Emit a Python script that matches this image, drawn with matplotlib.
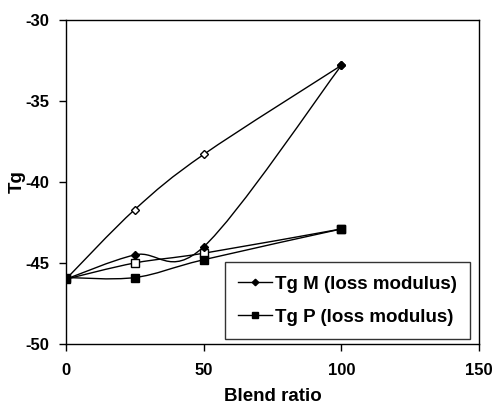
import numpy as np
import matplotlib
matplotlib.use('Agg')
import matplotlib.pyplot as plt
from matplotlib.path import Path
from matplotlib.patches import PathPatch

plt.rcParams['font.family'] = ['Liberation Sans', 'DejaVu Sans']
plt.rcParams['font.weight'] = 'bold'
plt.rcParams['axes.unicode_minus'] = False

# Данные
blend = [0, 25, 50, 100]
tg_m = [-46.0, -44.5, -44.0, -32.8]
tg_m_open = [-46.0, -41.7, -38.3, -32.8]
tg_p = [-45.9, -45.9, -44.8, -42.9]
tg_p_open = [-46.0, -45.0, -44.4, -42.9]


def smooth_path(x, y):
    # сглаженная линия как в Excel (кубические кривые Безье)
    x = np.asarray(x, float)
    y = np.asarray(y, float)
    n = len(x)
    verts = [(x[0], y[0])]
    codes = [Path.MOVETO]
    for i in range(n - 1):
        i0 = max(i - 1, 0)
        i3 = min(i + 2, n - 1)
        c1 = (x[i] + (x[i + 1] - x[i0]) / 6, y[i] + (y[i + 1] - y[i0]) / 6)
        c2 = (x[i + 1] - (x[i3] - x[i]) / 6, y[i + 1] - (y[i3] - y[i]) / 6)
        verts += [c1, c2, (x[i + 1], y[i + 1])]
        codes += [Path.CURVE4] * 3
    return Path(verts, codes)


fig = plt.figure(figsize=(4.96, 4.08), dpi=100)
ax = fig.add_axes([0.133, 0.157, 0.833, 0.794])

for yy in [tg_m, tg_m_open, tg_p, tg_p_open]:
    ax.add_patch(PathPatch(smooth_path(blend, yy), facecolor='none',
                           edgecolor='black', lw=1.0, zorder=2))

ax.plot(blend, tg_m_open, ls='none', marker='D', ms=3.6, mfc='white', mec='black', mew=1, zorder=3)
ax.plot(blend, tg_p_open, ls='none', marker='s', ms=5.2, mfc='white', mec='black', mew=1, zorder=3)
ax.plot(blend, tg_m, ls='none', marker='D', ms=4, color='black', zorder=4)
ax.plot(blend, tg_p, ls='none', marker='s', ms=5.8, color='black', zorder=4)

# для легенды
ax.plot([], [], color='black', lw=1, marker='D', ms=3.3, label='Tg M (loss modulus)')
ax.plot([], [], color='black', lw=1, marker='s', ms=5, label='Tg P (loss modulus)')

ax.set_xlim(0, 150)
ax.set_ylim(-50, -30)
ax.set_xticks([0, 50, 100, 150])
ax.set_yticks([-50, -45, -40, -35, -30])
ax.tick_params(direction='out', length=5, width=1, labelsize=12)
ax.tick_params(axis='x', pad=8.5)
ax.tick_params(axis='y', pad=7)
for s in ax.spines.values():
    s.set_linewidth(1)

ax.set_xlabel('Blend ratio', fontsize=13.5, fontweight='bold')
ax.set_ylabel('Tg', fontsize=13.5, fontweight='bold')
ax.xaxis.set_label_coords(0.5, -0.137)
ax.yaxis.set_label_coords(-0.097, 0.5)

leg = ax.legend(loc='lower right', bbox_to_anchor=(0.978, 0.015), borderaxespad=0,
                fontsize=13.5, frameon=True, fancybox=False, edgecolor='black',
                handlelength=1.8, handletextpad=0.15, borderpad=0.72, labelspacing=0.85)
leg.get_frame().set_linewidth(1)

plt.savefig('out.png', dpi=100)
